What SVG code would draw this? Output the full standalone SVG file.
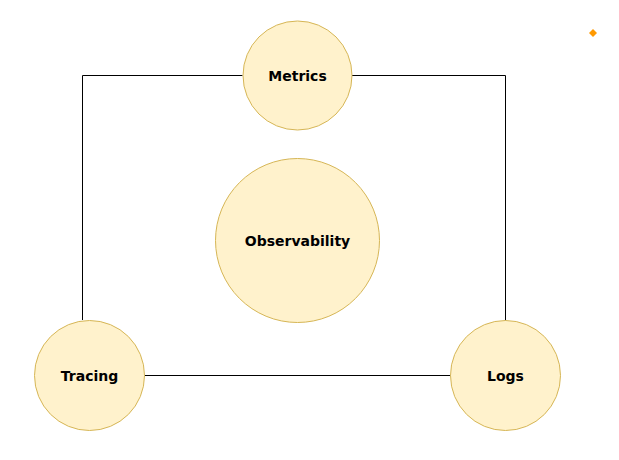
<svg xmlns="http://www.w3.org/2000/svg" width="619" height="460" viewBox="0 0 619 460">
<style>
.node{fill:#fff2cc;stroke:#d6b656;stroke-width:1}
.lbl{font-family:"DejaVu Sans","Liberation Sans",sans-serif;font-weight:bold;font-size:14px;fill:#000;text-anchor:middle;dominant-baseline:central}
.edge{fill:none;stroke:#000;stroke-width:1}
</style>
<rect width="619" height="460" fill="#fff"/>
<g id="connectors">
<path class="edge" d="M242.5,75.5 H82.5 V320"/>
<path class="edge" d="M352,75.5 H505.5 V320.5"/>
<path class="edge" d="M144.5,375.5 H450.5"/>
</g>
<g id="metrics"><circle class="node" cx="297.5" cy="75.5" r="54.5"/><text class="lbl" x="297.5" y="75.5">Metrics</text></g>
<g id="observability"><circle class="node" cx="297.5" cy="240.5" r="82"/><text class="lbl" x="297.5" y="241">Observability</text></g>
<g id="tracing"><circle class="node" cx="89.5" cy="375.5" r="55"/><text class="lbl" x="89.5" y="375.5">Tracing</text></g>
<g id="logs"><circle class="node" cx="505.5" cy="375.5" r="55"/><text class="lbl" x="505.5" y="375.5">Logs</text></g>
<g id="marker"><path d="M593,29 L597,33 L593,37 L589,33 Z" fill="#ff9900"/></g>
</svg>
